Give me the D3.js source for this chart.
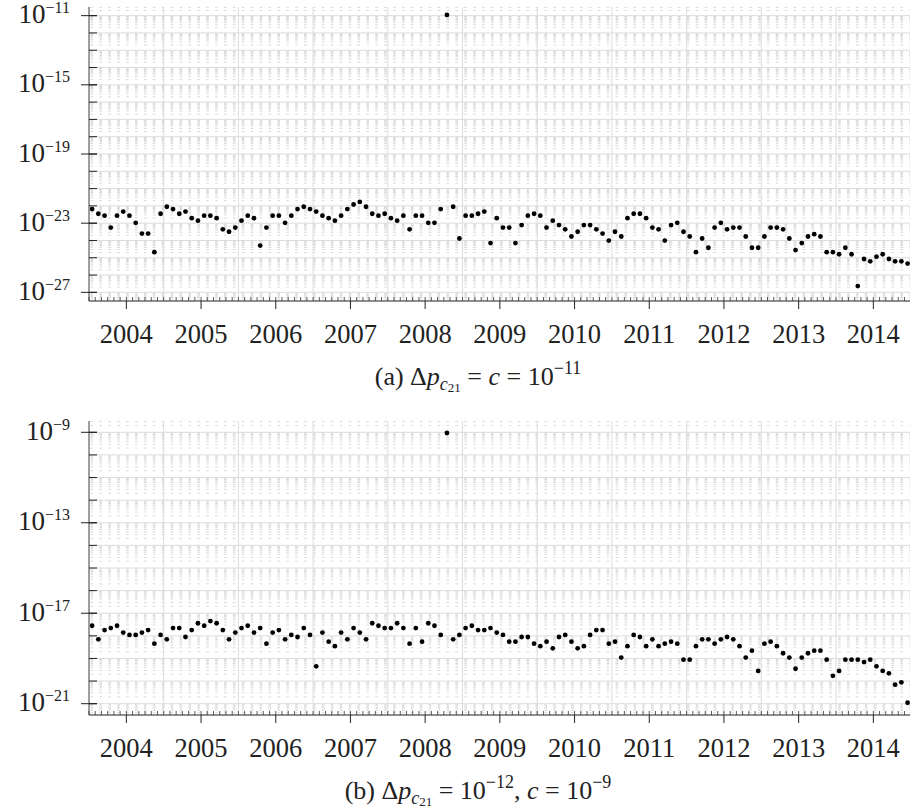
<!DOCTYPE html>
<html>
<head>
<meta charset="utf-8">
<script src="https://cdn.jsdelivr.net/npm/d3@7"></script>
<style>
  body { margin: 0; background: #fff; }
  svg { display: block; }
  text { font-family: "Liberation Serif", "DejaVu Serif", serif; fill: #222; }
</style>
</head>
<body>
<svg id="chart" width="910" height="810"></svg>
<script>
// monthly samples, July 2003 .. June 2014
var months = d3.timeMonth.range(new Date(2003, 6, 1), new Date(2014, 6, 1));

// (a) dp = c = 1e-11
var valuesA = [
  6.5e-23, 3.5e-23, 2.7e-23, 5.6e-24, 2.7e-23, 4.7e-23, 2.7e-23, 1.05e-23, 2.5e-24, 2.5e-24,
  2.1e-25, 3.5e-23, 8.9e-23, 6.5e-23, 3.5e-23, 4.7e-23, 1.95e-23, 1.4e-23, 2.7e-23, 2.7e-23,
  1.95e-23, 4.4e-24, 3.2e-24, 5.6e-24, 1.4e-23, 2.7e-23, 1.95e-23, 5.1e-25, 5.6e-24, 2.7e-23,
  2.7e-23, 1.05e-23, 2.7e-23, 6.5e-23, 8.9e-23, 6.5e-23, 4.7e-23, 2.7e-23, 1.95e-23, 1.4e-23,
  2.7e-23, 6.5e-23, 1.2e-22, 1.7e-22, 8.9e-23, 3.5e-23, 2.7e-23, 3.5e-23, 1.95e-23, 1.4e-23,
  2.7e-23, 4.4e-24, 2.7e-23, 2.7e-23, 1.05e-23, 1.05e-23, 6.5e-23, 1.1e-11, 8.9e-23, 1.3e-24,
  2.7e-23, 2.7e-23, 3.5e-23, 4.7e-23, 7.1e-25, 1.95e-23, 5.6e-24, 5.6e-24, 7.1e-25, 7.8e-24,
  2.7e-23, 3.5e-23, 2.7e-23, 5.6e-24, 1.4e-23, 7.8e-24, 4.4e-24, 1.7e-24, 3.2e-24, 7.8e-24,
  7.8e-24, 4.4e-24, 2.5e-24, 9.8e-25, 3.2e-24, 1.7e-24, 1.95e-23, 3.5e-23, 3.5e-23, 1.95e-23,
  5.6e-24, 4.4e-24, 9.8e-25, 7.8e-24, 1.05e-23, 3.2e-24, 1.7e-24, 2.1e-25, 1.3e-24, 3.8e-25,
  5.6e-24, 1.05e-23, 4.4e-24, 5.6e-24, 5.6e-24, 1.7e-24, 3.8e-25, 3.8e-25, 1.7e-24, 5.6e-24,
  5.6e-24, 4.4e-24, 1.3e-24, 2.8e-25, 7.1e-25, 1.7e-24, 2.3e-24, 1.7e-24, 2.1e-25, 2.1e-25,
  1.6e-25, 3.8e-25, 1.6e-25, 2.3e-27, 8.5e-26, 6.2e-26, 1.15e-25, 1.6e-25, 8.5e-26, 6.2e-26,
  6.2e-26, 4.6e-26
];

// (b) dp = 1e-12, c = 1e-9
var valuesB = [
  2.8e-18, 7.0e-19, 1.8e-18, 2.2e-18, 2.8e-18, 1.4e-18, 1.1e-18, 1.1e-18, 1.4e-18, 1.8e-18,
  4.5e-19, 1.1e-18, 7.0e-19, 2.2e-18, 2.2e-18, 8.9e-19, 1.8e-18, 3.6e-18, 2.8e-18, 4.5e-18,
  3.6e-18, 1.8e-18, 7.0e-19, 1.4e-18, 2.2e-18, 2.8e-18, 1.4e-18, 2.2e-18, 4.5e-19, 1.4e-18,
  1.8e-18, 7.0e-19, 1.1e-18, 8.9e-19, 2.2e-18, 1.1e-18, 4.5e-20, 1.4e-18, 5.5e-19, 3.5e-19,
  1.4e-18, 7.0e-19, 2.2e-18, 1.4e-18, 7.0e-19, 3.6e-18, 2.8e-18, 2.2e-18, 2.2e-18, 3.6e-18,
  2.2e-18, 4.5e-19, 2.2e-18, 5.5e-19, 3.6e-18, 2.8e-18, 1.1e-18, 9.3e-10, 7.0e-19, 1.1e-18,
  2.2e-18, 2.8e-18, 1.8e-18, 1.8e-18, 2.2e-18, 1.4e-18, 1.1e-18, 5.5e-19, 5.5e-19, 8.9e-19,
  8.9e-19, 4.5e-19, 3.5e-19, 5.5e-19, 2.8e-19, 8.9e-19, 1.1e-18, 5.5e-19, 2.8e-19, 3.5e-19,
  1.1e-18, 1.8e-18, 1.8e-18, 4.5e-19, 5.5e-19, 1.1e-19, 3.5e-19, 1.1e-18, 8.9e-19, 3.5e-19,
  7.0e-19, 3.5e-19, 4.5e-19, 5.5e-19, 4.5e-19, 8.8e-20, 8.8e-20, 3.5e-19, 7.0e-19, 7.0e-19,
  4.5e-19, 7.0e-19, 8.9e-19, 7.0e-19, 3.5e-19, 1.1e-19, 2.2e-19, 2.8e-20, 4.5e-19, 5.5e-19,
  3.5e-19, 1.7e-19, 1.1e-19, 3.5e-20, 1.1e-19, 1.7e-19, 2.2e-19, 2.2e-19, 8.8e-20, 1.7e-20,
  2.8e-20, 8.8e-20, 8.8e-20, 8.8e-20, 6.9e-20, 8.8e-20, 4.5e-20, 2.8e-20, 2.2e-20, 6.9e-21,
  8.8e-21, 1.1e-21
];

var yearTicks = [2004, 2005, 2006, 2007, 2008, 2009, 2010, 2011, 2012, 2013, 2014];
var expTicksA = [-27, -23, -19, -15, -11];
var expTicksB = [-21, -17, -13, -9];

var svg = d3.select('#chart');

var left = 89, right = 910.7;
var x = d3.scaleLinear().domain([2003.5, 2014.5]).range([left, right]);

function decYear(d) {
    return d.getFullYear() + (d.getMonth() + 0.5) / 12;
}

// write a line of mixed text (math-like) with tspans
function richText(sel, parts) {
    parts.forEach(function (p) {
        var t = sel.append('tspan').text(p.t);
        if (p.size) t.attr('font-size', p.size);
        if (p.it) t.attr('font-style', 'italic');
        if (p.dy) t.attr('dy', p.dy);
    });
}

function drawPanel(cfg) {
    var y = d3.scaleLog().domain(cfg.domain).range([cfg.bottom, cfg.top]);
    var g = svg.append('g');

    var lo = Math.floor(Math.log10(cfg.domain[0])), hi = Math.ceil(Math.log10(cfg.domain[1]));

    // minor horizontal grid (2..9 x 10^n), dashed
    var minor = [];
    d3.range(lo, hi).forEach(function (e) {
        d3.range(2, 10).forEach(function (k) {
            var v = k * Math.pow(10, e);
            if (v > cfg.domain[0] && v < cfg.domain[1]) minor.push(v);
        });
    });
    g.append('g').selectAll('line').data(minor).enter().append('line')
        .attr('x1', left + 1.5).attr('x2', right)
        .attr('y1', d => y(d)).attr('y2', d => y(d))
        .attr('stroke', '#cfcfcf').attr('stroke-width', 0.8)
        .attr('stroke-dasharray', '2.6,6.3');

    // decade grid
    var decades = d3.range(lo, hi + 1).map(e => Math.pow(10, e))
        .filter(v => v >= cfg.domain[0] && v <= cfg.domain[1]);
    g.append('g').selectAll('line').data(decades).enter().append('line')
        .attr('x1', left).attr('x2', right)
        .attr('y1', d => y(d)).attr('y2', d => y(d))
        .attr('stroke', '#dcdcdc').attr('stroke-width', 1);

    // mid-year vertical grid
    g.append('g').selectAll('line').data(yearTicks.map(d => d + 0.5).filter(d => d < 2014.5)).enter().append('line')
        .attr('x1', d => x(d)).attr('x2', d => x(d))
        .attr('y1', cfg.top).attr('y2', cfg.bottom)
        .attr('stroke', '#dcdcdc').attr('stroke-width', 1);

    // points
    g.append('g').selectAll('circle').data(cfg.values).enter().append('circle')
        .attr('cx', (d, i) => x(decYear(months[i])))
        .attr('cy', d => y(d))
        .attr('r', 2.4)
        .attr('fill', '#000');

    // axes lines
    g.append('line').attr('x1', left).attr('x2', left).attr('y1', cfg.top).attr('y2', cfg.bottom)
        .attr('stroke', '#6a6a6a').attr('stroke-width', 1.3);
    g.append('line').attr('x1', left).attr('x2', right).attr('y1', cfg.bottom).attr('y2', cfg.bottom)
        .attr('stroke', '#6a6a6a').attr('stroke-width', 1.3);

    // y decade ticks (inside) and labelled ticks (crossing)
    g.append('g').selectAll('line').data(decades).enter().append('line')
        .attr('x1', left).attr('x2', left + 8)
        .attr('y1', d => y(d)).attr('y2', d => y(d))
        .attr('stroke', '#222').attr('stroke-width', 1);
    var yl = g.append('g').selectAll('g').data(cfg.expTicks).enter().append('g')
        .attr('transform', d => 'translate(0,' + y(Math.pow(10, d)) + ')');
    yl.append('line').attr('x1', left - 8).attr('x2', left + 8)
        .attr('stroke', '#222').attr('stroke-width', 1);
    yl.append('text')
        .attr('x', 70).attr('y', 7.5)
        .attr('text-anchor', 'end')
        .attr('font-size', 27)
        .each(function (d) {
            richText(d3.select(this), [
                { t: '10' },
                { t: '\u2212' + Math.abs(d), size: 16, dy: -10 }
            ]);
        });

    // x ticks: monthly minor (inside), yearly major (outside)
    var monthTicks = d3.range(0, 133).map(i => 2003.5 + i / 12);
    g.append('g').selectAll('line').data(monthTicks).enter().append('line')
        .attr('x1', d => x(d)).attr('x2', d => x(d))
        .attr('y1', cfg.bottom).attr('y2', cfg.bottom - 4)
        .attr('stroke', '#333').attr('stroke-width', 0.8);
    var xl = g.append('g').selectAll('g').data(yearTicks).enter().append('g')
        .attr('transform', d => 'translate(' + x(d) + ',' + cfg.bottom + ')');
    xl.append('line').attr('y1', 0).attr('y2', 8).attr('stroke', '#222').attr('stroke-width', 1);
    xl.append('text')
        .attr('y', 41.5)
        .attr('text-anchor', 'middle')
        .attr('font-size', 26.5)
        .text(d => d);

    // caption
    var cap = svg.append('text')
        .attr('x', 478).attr('y', cfg.bottom + 84)
        .attr('text-anchor', 'middle')
        .attr('font-size', 26);
    richText(cap, cfg.caption);
}

var sub = [
    { t: 'p', it: true },
    { t: 'c', it: true, size: 18, dy: 4.5 },
    { t: '21', size: 13, dy: 2.5 }
];

drawPanel({
    values: valuesA,
    domain: [Math.pow(10, -27.5), Math.pow(10, -10.5)],
    top: 7, bottom: 301,
    expTicks: expTicksA,
    caption: [{ t: '(a) \u0394' }].concat(sub, [
        { t: ' = ', size: 26, dy: -7 },
        { t: 'c', it: true },
        { t: ' = 10' },
        { t: '\u221211', size: 18, dy: -11 }
    ])
});

drawPanel({
    values: valuesB,
    domain: [Math.pow(10, -21.5), Math.pow(10, -8.5)],
    top: 421, bottom: 715,
    expTicks: expTicksB,
    caption: [{ t: '(b) \u0394' }].concat(sub, [
        { t: ' = 10', size: 26, dy: -7 },
        { t: '\u221212', size: 18, dy: -11 },
        { t: ', ', size: 26, dy: 11 },
        { t: 'c', it: true },
        { t: ' = 10' },
        { t: '\u22129', size: 18, dy: -11 }
    ])
});
</script>
</body>
</html>
